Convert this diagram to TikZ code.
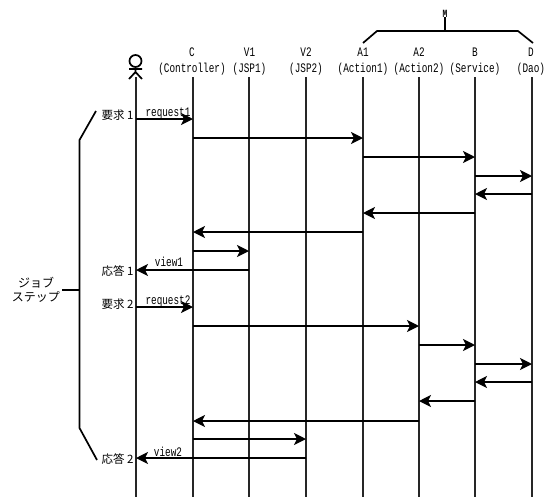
\documentclass[tikz,border=0pt]{standalone}
\usepackage{fontspec}
\setmainfont[FakeStretch=0.72]{Liberation Mono}
\newfontfamily\jpf{Noto Sans CJK JP}
\usetikzlibrary{arrows.meta}
\tikzset{
 life/.style={line width=1.8pt,black!85},
 msg/.style={line width=1.6pt,-{Stealth[length=12pt,width=12pt,inset=3pt]}},
 lab/.style={font=\fontsize{13}{11}\selectfont,inner sep=0pt,anchor=base},
 jp/.style={font=\jpf\fontsize{11.5}{12}\selectfont,inner sep=0pt},
 brace/.style={line width=1.7pt,line join=round}
}
\begin{document}
\begin{tikzpicture}[x=1pt,y=-1pt]
\useasboundingbox[fill=white] (0,0) rectangle (557,499);
% lifeline anchors
\foreach \n/\x in {u/136,c/193,va/249,vb/306,aa/363,ab/419,b/475,d/532}{
  \coordinate (\n) at (\x,77);
  \coordinate (\n e) at (\x,497);
  \draw[life] (\n) -- (\n e);
}
% rows
\foreach \n/\y in {r1/119,r2/138,r3/157,r4/176,r5/194,r6/213,r7/232,r8/251,r9/270,s1/307,s2/326,s3/345,s4/364,s5/382,s6/401,s7/421,s8/439,s9/458}{
  \coordinate (\n) at (0,\y);
}
% actor
\node[draw,circle,line width=1.7pt,minimum size=12pt,inner sep=0pt] (actor) at (135.5,61) {};
\coordinate (arml) at (129,69);
\coordinate (armr) at (142,69);
\coordinate (hip) at (135.5,72);
\coordinate (legl) at (129,79);
\coordinate (legr) at (142,79);
\draw[line width=1.7pt] (actor.south) -- (hip) (arml) -- (armr) (legl) -- (hip) -- (legr);
% headers
\node[lab] (hc) at (192,56) {C};
\node[lab] (hcb) at (192,72.5) {(Controller)};
\node[lab] (hva) at (249.5,56) {V1};
\node[lab] (hvab) at (249.5,72.5) {(JSP1)};
\node[lab] (hvb) at (306,56) {V2};
\node[lab] (hvbb) at (306,72.5) {(JSP2)};
\node[lab] (haa) at (363,56) {A1};
\node[lab] (haab) at (363,72.5) {(Action1)};
\node[lab] (hab) at (419,56) {A2};
\node[lab] (habb) at (419,72.5) {(Action2)};
\node[lab] (hb) at (475,56) {B};
\node[lab] (hbb) at (475,72.5) {(Service)};
\node[lab] (hd) at (531,56) {D};
\node[lab] (hdb) at (531,72.5) {(Dao)};
% M brace
\node[lab,font=\fontsize{11}{10}\selectfont\bfseries] (mm) at (445,17) {M};
\coordinate (ml) at (363,43);
\coordinate (mlt) at (377,31);
\coordinate (mr) at (533,43);
\coordinate (mrt) at (518,31);
\coordinate (mc) at (445,31);
\draw[brace] (ml) -- (mlt) -- (mrt) -- (mr);
\draw[brace] (mc) -- (mm.south);
% messages
\draw[msg] (u|-r1) -- (c|-r1);
\draw[msg] (c|-r2) -- (aa|-r2);
\draw[msg] (aa|-r3) -- (b|-r3);
\draw[msg] (b|-r4) -- (d|-r4);
\draw[msg] (d|-r5) -- (b|-r5);
\draw[msg] (b|-r6) -- (aa|-r6);
\draw[msg] (aa|-r7) -- (c|-r7);
\draw[msg] (c|-r8) -- (va|-r8);
\draw[msg] (va|-r9) -- (u|-r9);
\draw[msg] (u|-s1) -- (c|-s1);
\draw[msg] (c|-s2) -- (ab|-s2);
\draw[msg] (ab|-s3) -- (b|-s3);
\draw[msg] (b|-s4) -- (d|-s4);
\draw[msg] (d|-s5) -- (b|-s5);
\draw[msg] (b|-s6) -- (ab|-s6);
\draw[msg] (ab|-s7) -- (c|-s7);
\draw[msg] (c|-s8) -- (vb|-s8);
\draw[msg] (vb|-s9) -- (u|-s9);
% message labels
\node[lab] (l1) at (168,116) {request1};
\node[lab] (l2) at (168,304) {request2};
\node[lab] (l3) at (169,266) {view1};
\node[lab] (l4) at (168,456) {view2};
% left labels
\node[jp] (q1) at (117.5,115.5) {要求 1};
\node[jp] (a1) at (117.5,271) {応答 1};
\node[jp] (q2) at (117.5,304.5) {要求 2};
\node[jp] (a2) at (117.5,459) {応答 2};
\node[jp,align=center,font=\jpf\fontsize{12}{14}\selectfont] (job) at (36,290) {ジョブ\\ステップ};
% bracket
\coordinate (bt) at (96,111);
\coordinate (bu) at (79.5,140);
\coordinate (bm) at (79.5,290);
\coordinate (bl) at (79.5,428);
\coordinate (bb) at (97,460);
\coordinate (bj) at (62,290);
\draw[brace] (bt) -- (bu) -- (bl) -- (bb);
\draw[brace] (bj) -- (bm);
\end{tikzpicture}
\end{document}
